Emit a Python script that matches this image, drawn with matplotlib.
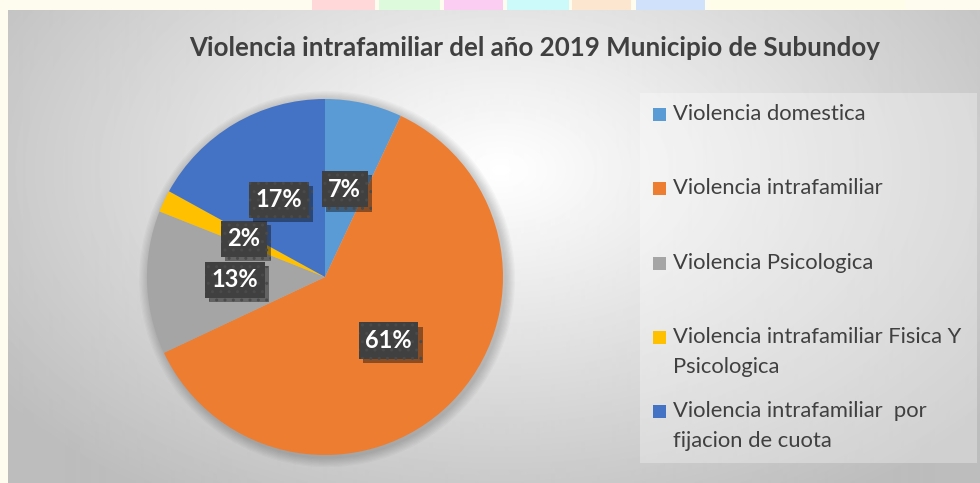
"""
Violencia intrafamiliar 2019 - Municipio de Subundoy (pie chart, Excel style)
"""
import numpy as np
import matplotlib
matplotlib.use('Agg')
import matplotlib.pyplot as plt
import matplotlib.patheffects as pe
from matplotlib.patches import Rectangle, Circle

plt.rcParams['font.family'] = ['Lato', 'DejaVu Sans']

# ── Data ─────────────────────────────────────────────────────────────────────
categorias = ['Violencia domestica',
              'Violencia intrafamiliar',
              'Violencia Psicologica',
              'Violencia intrafamiliar Fisica Y\nPsicologica',
              'Violencia intrafamiliar  por\nfijacion de cuota']
porcentajes = [7, 61, 13, 2, 17]
colores = ['#5B9BD5', '#ED7D31', '#A5A5A5', '#FFC000', '#4472C4']
titulo = 'Violencia intrafamiliar del año 2019 Municipio de Subundoy'

W, H = 980, 483
fig = plt.figure(figsize=(W / 100, H / 100), dpi=100)
fig.patch.set_facecolor('#fdfcef')

# ── Decorative strip above the chart area ───────────────────────────────────
deco = fig.add_axes([0, 0, 1, 1])
deco.set_xlim(0, W)
deco.set_ylim(H, 0)
deco.axis('off')
tabs = [(312, 375, '#ffd9d9'), (379, 440, '#ddfadd'), (444, 503, '#fccdf2'),
        (507, 569, '#ccfafa'), (572, 631, '#fde6cf'), (636, 705, '#cfe1fb'),
        (710, 905, '#fefdea')]
for x0, x1, c in tabs:
    deco.add_patch(Rectangle((x0, 0), x1 - x0, 12, color=c, lw=0))

# ── Chart area background: radial grey gradient ──────────────────────────────
bg = fig.add_axes([8 / W, 0, 1 - 8 / W, 1 - 10 / H])
yy, xx = np.mgrid[10:H:1.0, 8:W:1.0]
r = np.sqrt(((xx - 500) / 540) ** 2 + ((yy - 170) / 340) ** 2)
g = 1.0 - 0.26 * np.clip(r, 0, 1.15) / 1.15
bg.imshow(g, cmap='gray', vmin=0, vmax=1, aspect='auto',
          extent=[8, W, H, 10], interpolation='bilinear')
bg.set_xlim(8, W)
bg.set_ylim(H, 10)
bg.axis('off')

# legend panel (slightly lighter)
bg.add_patch(Rectangle((640, 93), 337, 370, facecolor='white', alpha=0.3, lw=0))

# ── Pie ─────────────────────────────────────────────────────────────────────
cx, cy, R = 325, 277, 178
lim = 1.1
s = R * lim
ax = fig.add_axes([(cx - s) / W, (H - cy - s) / H, 2 * s / W, 2 * s / H])
# soft shadow behind the pie
for k in range(8):
    ax.add_patch(Circle((0.012, -0.012), 1.0 + 0.007 * (8 - k),
                        facecolor='black', alpha=0.025, lw=0, zorder=0))
wedges, _, autotexts = ax.pie(
    porcentajes, colors=colores, startangle=90, counterclock=False,
    autopct='%1.0f%%', pctdistance=0.505, radius=1,
    wedgeprops=dict(linewidth=0),
    textprops=dict(color='white', fontsize=17, fontweight='bold'))
for t in autotexts:
    t.set_bbox(dict(boxstyle='square,pad=0.28', facecolor='#404040',
                    edgecolor='#4a4a4a', linewidth=0, hatch='..'))
    t.get_bbox_patch().set_path_effects([
        pe.SimplePatchShadow(offset=(3, -3), alpha=0.45), pe.Normal()])
ax.set_xlim(-lim, lim)
ax.set_ylim(-lim, lim)
ax.set_aspect('equal')
ax.axis('off')

# ── Title ───────────────────────────────────────────────────────────────────
fig.text(535 / W, 1 - 48 / H, titulo, ha='center', va='center',
         fontsize=18.6, fontweight='bold', color='#404040')

# ── Legend ──────────────────────────────────────────────────────────────────
y_first = [114, 188, 263, 337, 411]
line_h = 30
for lab, col, y in zip(categorias, colores, y_first):
    bg.add_patch(Rectangle((653, y - 6.5), 13, 13, facecolor=col, lw=0))
    for k, line in enumerate(lab.split('\n')):
        bg.text(673, y + k * line_h, line, ha='left', va='center',
                fontsize=15.8, color='#404040')

fig.savefig('out.png', dpi=100)
